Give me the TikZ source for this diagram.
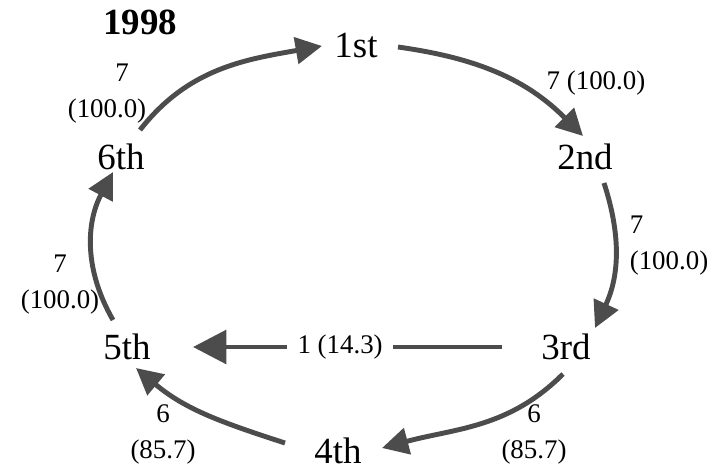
\documentclass[tikz,border=0pt]{standalone}
\usepackage{fontspec}
\setmainfont{Liberation Serif}
\usetikzlibrary{arrows.meta,calc}

\begin{document}
\begin{tikzpicture}[
    stage/.style={inner sep=0pt, font=\fontsize{21}{25}\selectfont},
    lbl/.style={inner sep=0pt, align=center, text=black, font=\fontsize{15.3}{20.5}\selectfont},
    arr/.style={-{Triangle[length=15pt,width=15pt]}, line width=2.8pt, black!70},
]
\useasboundingbox (0,0) rectangle (14.26,-9.44);

\node[stage, font=\fontsize{21}{25}\selectfont\bfseries] (year) at (2.80,-0.44) {1998};
\node[stage] (st) at (7.12,-0.90) {1st};
\node[stage] (nd) at (11.70,-3.14) {2nd};
\node[stage] (rd) at (11.32,-6.94) {3rd};
\node[stage] (fo) at (6.76,-9.02) {4th};
\node[stage] (fi) at (2.54,-6.94) {5th};
\node[stage] (si) at (2.42,-3.14) {6th};

\node[lbl] (w61) at (2.14,-1.88) {\hspace*{0.6cm}7\\(100.0)};
\node[lbl] (w12) at (11.92,-1.67) {7 (100.0)};
\node[lbl, align=left] (w23) at (13.38,-4.92) {7\\(100.0)};
\node[lbl] (w34) at (10.68,-8.68) {6\\(85.7)};
\node[lbl] (w45) at (3.26,-8.68) {6\\(85.7)};
\node[lbl] (w56) at (1.20,-5.70) {7\\(100.0)};

\draw[arr] ($(si)+(0.38,0.54)$) to[out=52,in=190] ($(st)+(-0.68,-0.02)$);
\draw[arr] ($(st)+(0.84,-0.04)$) to[out=-8,in=135] ($(nd)+(-0.04,0.42)$);
\draw[arr] ($(nd)+(0.38,-0.52)$) to[out=-72,in=65] ($(rd)+(0.58,0.38)$);
\draw[arr] ($(rd)+(-0.06,-0.54)$) to[out=225,in=15] ($(fo)+(0.88,0.06)$);
\draw[arr] ($(fo)+(-1.06,0.16)$) to[out=162,in=-40] ($(fi)+(0.18,-0.42)$);
\draw[arr] ($(fi)+(-0.28,0.54)$) to[out=120,in=-118] ($(si)+(-0.16,-0.30)$);
\draw[arr, -{Triangle[length=19pt,width=19pt]}] ($(rd)+(-1.28,0)$) -- node[lbl, pos=0.524, fill=white, inner xsep=6pt] (w35) {1 (14.3)} ($(fi)+(1.32,0)$);
\end{tikzpicture}
\end{document}
